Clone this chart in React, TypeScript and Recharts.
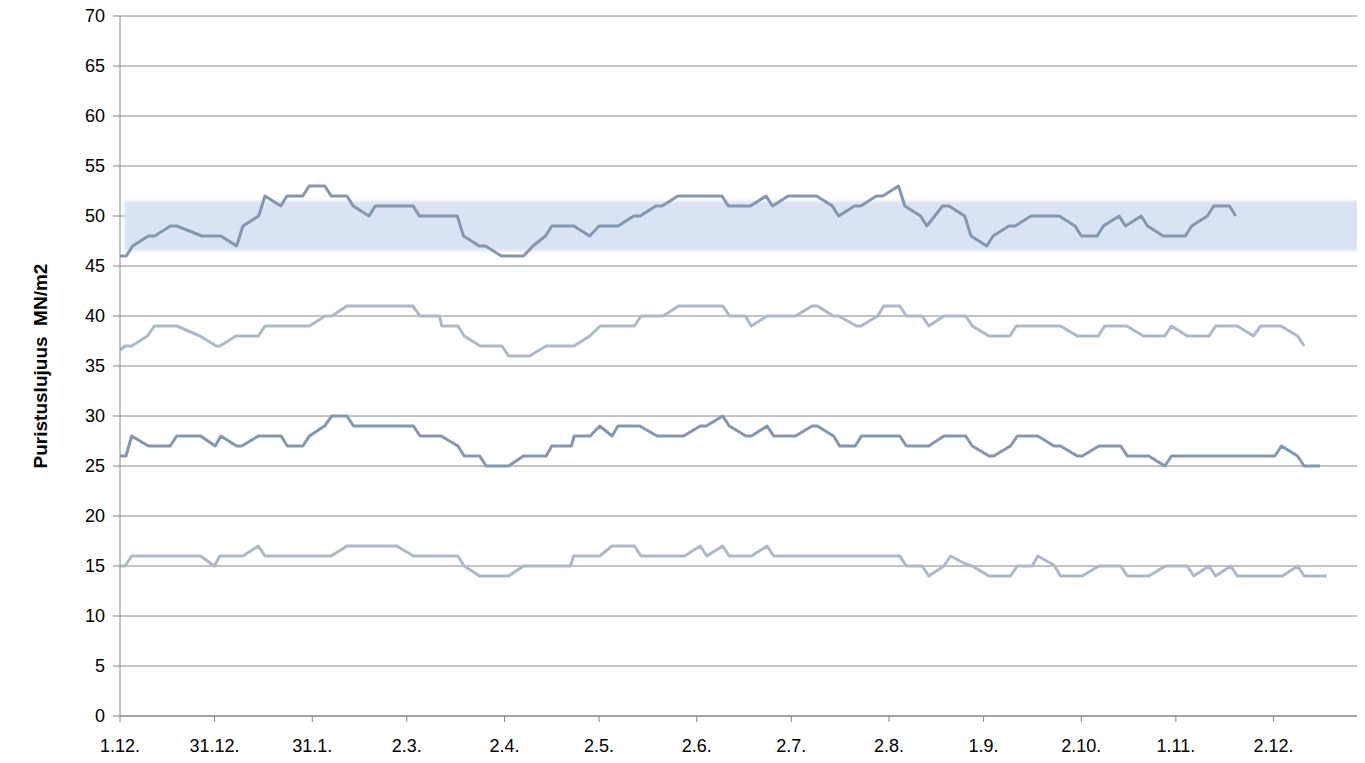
import React from 'react';
import { LineChart, Line, XAxis, YAxis, CartesianGrid, ReferenceArea } from 'recharts';

// x = days since 1.12.
const xTickDays = [0, 30, 61, 91, 122, 152, 183, 213, 244, 274, 305, 335, 366];
const xTickLabels = ['1.12.', '31.12.', '31.1.', '2.3.', '2.4.', '2.5.', '2.6.', '2.7.', '2.8.', '1.9.', '2.10.', '1.11.', '2.12.'];
const yTicks = [0, 5, 10, 15, 20, 25, 30, 35, 40, 45, 50, 55, 60, 65, 70];

const bandRange = { x1: 1.3, x2: 394, y1: 46.5, y2: 51.5 };

const s1Days = [0, 2, 4, 9, 11, 16, 18, 26, 32, 37, 39, 44, 46, 51, 53, 58, 60, 65, 67, 72, 74, 79, 81, 93, 95, 107, 109, 114, 116, 121, 128, 131, 135, 137, 144, 149, 152, 158, 163, 165, 170, 172, 177, 191, 193, 200, 205, 207, 212, 221, 226, 228, 233, 235, 240, 242, 247, 249, 254, 256, 261, 263, 268, 270, 275, 277, 282, 284, 289, 298, 303, 305, 310, 312, 317, 319, 324, 326, 331, 338, 340, 345, 347, 352, 354];
const s1Vals = [46, 46, 47, 48, 48, 49, 49, 48, 48, 47, 49, 50, 52, 51, 52, 52, 53, 53, 52, 52, 51, 50, 51, 51, 50, 50, 48, 47, 47, 46, 46, 47, 48, 49, 49, 48, 49, 49, 50, 50, 51, 51, 52, 52, 51, 51, 52, 51, 52, 52, 51, 50, 51, 51, 52, 52, 53, 51, 50, 49, 51, 51, 50, 48, 47, 48, 49, 49, 50, 50, 49, 48, 48, 49, 50, 49, 50, 49, 48, 48, 49, 50, 51, 51, 50];

const s2Days = [0, 1.6, 3.7, 8.7, 10.9, 18, 25.4, 30.5, 31.7, 36.8, 43.9, 46, 60.1, 65.1, 67.2, 72, 92.9, 95.2, 101.4, 102.1, 107.2, 109.2, 114.3, 121.2, 123.3, 129.9, 135.2, 144.1, 149, 152.4, 163.2, 165.3, 172.3, 177.2, 191.3, 193.4, 198.4, 200.3, 205.3, 214.3, 219.6, 221.2, 226.4, 228, 233.7, 235.1, 240.4, 242.3, 247.4, 249.5, 254.5, 256.6, 261.4, 268.3, 270.4, 275.7, 282.3, 284.4, 298.4, 303.7, 310.4, 312.4, 319.4, 324.7, 331.5, 333.6, 338.6, 345.5, 347.6, 354.5, 359.6, 361.9, 368.3, 373.6, 375.7];
const s2Vals = [36.6, 37, 37, 38, 39, 39, 38, 37, 37, 38, 38, 39, 39, 40, 40, 41, 41, 40, 40, 39, 39, 38, 37, 37, 36, 36, 37, 37, 38, 39, 39, 40, 40, 41, 41, 40, 40, 39, 40, 40, 41, 41, 40, 40, 39, 39, 40, 41, 41, 40, 40, 39, 40, 40, 39, 38, 38, 39, 39, 38, 38, 39, 39, 38, 38, 39, 38, 38, 39, 39, 38, 39, 39, 38, 37];

const s3Days = [0, 1.9, 3.7, 9, 15.9, 18, 25.6, 30.2, 32, 37, 38.6, 43.9, 51.1, 53.1, 58, 60.1, 64.9, 67.2, 72, 74.1, 93.1, 95.2, 101.9, 107.2, 109.2, 114.1, 116.2, 123.3, 128, 135.2, 137, 143.2, 144.1, 149.2, 152.2, 156.1, 158, 164.9, 170.4, 178.8, 184.1, 186, 191.2, 193.3, 198.6, 200.3, 205.3, 207.4, 214.3, 219.6, 221.2, 226.4, 228.3, 233.3, 235.2, 247.4, 249.5, 256.6, 261.4, 268.3, 270.4, 275.7, 277.2, 282.5, 284.7, 291.2, 296.3, 298.4, 303.7, 305.3, 310.6, 317.5, 319.6, 326.4, 331.5, 333.6, 366.4, 368.5, 373.6, 375.7, 380.7];
const s3Vals = [26, 26, 28, 27, 27, 28, 28, 27, 28, 27, 27, 28, 28, 27, 27, 28, 29, 30, 30, 29, 29, 28, 28, 27, 26, 26, 25, 25, 26, 26, 27, 27, 28, 28, 29, 28, 29, 29, 28, 28, 29, 29, 30, 29, 28, 28, 29, 28, 28, 29, 29, 28, 27, 27, 28, 28, 27, 27, 28, 28, 27, 26, 26, 27, 28, 28, 27, 27, 26, 26, 27, 27, 26, 26, 25, 26, 26, 27, 26, 25, 25];

const s4Days = [0, 1.6, 3.7, 25.6, 29.9, 31.7, 39, 43.9, 46, 67, 72, 87.8, 93.1, 107.2, 109.2, 114.1, 123.3, 128, 142.9, 143.9, 152.2, 156.1, 163.2, 165.3, 179.1, 184.1, 186.2, 191.2, 193.3, 200.3, 205.3, 207.4, 247.4, 249.5, 254.5, 256.6, 261.4, 263.5, 268.3, 270.4, 275.7, 282.5, 284.7, 289.4, 291.2, 296.3, 298.4, 305.3, 310.6, 317.5, 319.6, 326.4, 331.7, 338.6, 340.7, 345.5, 347.6, 352.4, 354.5, 368.8, 373.6, 375.7, 382.9];
const s4Vals = [15, 15, 16, 16, 15, 16, 16, 17, 16, 16, 17, 17, 16, 16, 15, 14, 14, 15, 15, 16, 16, 17, 17, 16, 16, 17, 16, 17, 16, 16, 17, 16, 16, 15, 15, 14, 15, 16, 15.2, 15, 14, 14, 15, 15, 16, 15.1, 14, 14, 15, 15, 14, 14, 15, 15, 14, 15, 14, 15, 14, 14, 15, 14, 14];

const toRows = (days: number[], vals: number[]) => days.map((d, i) => ({ day: d, v: vals[i] }));

const series = [
  { name: 's1', data: toRows(s1Days, s1Vals), color: '#8497b0' },
  { name: 's2', data: toRows(s2Days, s2Vals), color: '#adb9ca' },
  { name: 's3', data: toRows(s3Days, s3Vals), color: '#8497b0' },
  { name: 's4', data: toRows(s4Days, s4Vals), color: '#adb9ca' },
];

const AXIS = '#868686';
const FONT = '"Liberation Sans", Arial, sans-serif';

const BandShape = (props: any) => {
  const { x, y, width, height } = props;
  return (
    <g>
      <defs>
        <filter id="bandBlur" x="-5%" y="-50%" width="110%" height="200%">
          <feGaussianBlur stdDeviation="1.6" />
        </filter>
      </defs>
      <rect x={x} y={y} width={width} height={height} fill="#dae3f3" filter="url(#bandBlur)" />
    </g>
  );
};

const YLabel = (props: any) => {
  const vb = props.viewBox || { x: 0, y: 0, width: 0, height: 0 };
  const cx = vb.x + 32;
  const cy = vb.y + vb.height / 2;
  return (
    <text
      x={cx}
      y={cy}
      transform={`rotate(-90 ${cx} ${cy})`}
      textAnchor="middle"
      dominantBaseline="central"
      fontFamily={FONT}
      fontSize={19}
      fontWeight="bold"
      fill="#000"
      style={{ whiteSpace: 'pre' }}
    >
      Puristuslujuus  MN/m2
    </text>
  );
};

export default function App() {
  return (
    <div style={{ marginTop: -8, marginBottom: -8, width: 1357, height: 763 }}>
      <LineChart width={1357} height={763} margin={{ top: 16, right: 0, left: 0, bottom: 8 }}>
        <CartesianGrid horizontal vertical={false} stroke={AXIS} strokeWidth={1} />
        <ReferenceArea
          x1={bandRange.x1}
          x2={bandRange.x2}
          y1={bandRange.y1}
          y2={bandRange.y2}
          shape={BandShape}
          ifOverflow="visible"
        />
        <XAxis
          dataKey="day"
          type="number"
          domain={[0, 395]}
          ticks={xTickDays}
          tickFormatter={(v: number) => xTickLabels[xTickDays.indexOf(v)] ?? ''}
          allowDuplicatedCategory={false}
          height={39}
          stroke={AXIS}
          tickSize={6}
          tickMargin={17}
          tick={{ fill: '#000', fontSize: 18, fontFamily: FONT }}
          interval={0}
        />
        <YAxis
          type="number"
          domain={[0, 70]}
          ticks={yTicks}
          width={112}
          stroke={AXIS}
          tickSize={7}
          tickMargin={8}
          tick={{ fill: '#000', fontSize: 18, fontFamily: FONT }}
          interval={0}
          label={<YLabel />}
        />
        {series.map((s) => (
          <Line
            key={s.name}
            data={s.data}
            dataKey="v"
            type="linear"
            stroke={s.color}
            strokeWidth={3}
            dot={false}
            activeDot={false}
            strokeLinejoin="round"
            isAnimationActive={false}
          />
        ))}
      </LineChart>
    </div>
  );
}
